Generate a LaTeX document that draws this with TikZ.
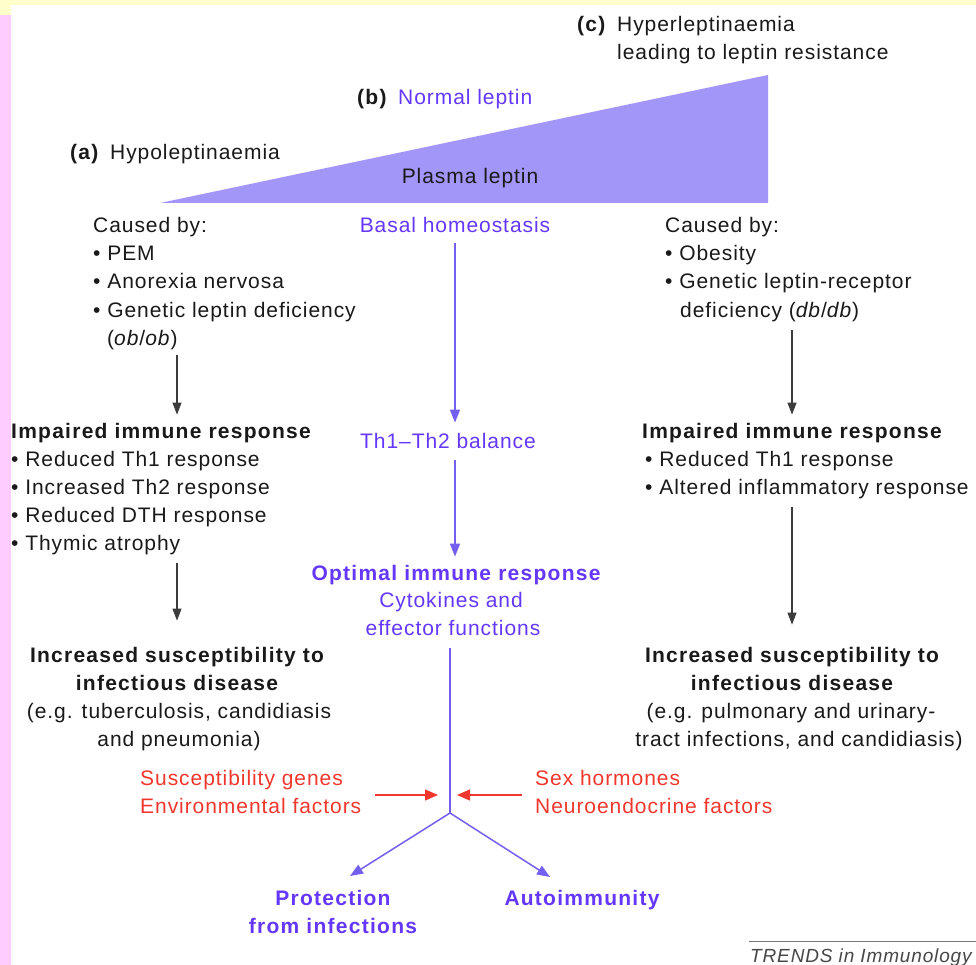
\documentclass[tikz,border=0pt]{standalone}
\usepackage{fontspec}
\setmainfont{Liberation Sans}[LetterSpace=4.5,BoldFeatures={LetterSpace=6}]
\usetikzlibrary{arrows.meta}
\definecolor{pur}{RGB}{100,55,250}
\definecolor{purl}{RGB}{115,95,240}
\definecolor{tri}{RGB}{162,150,248}
\definecolor{rd}{RGB}{240,55,45}
\definecolor{ink}{RGB}{25,25,25}
\definecolor{pinkbar}{RGB}{255,204,255}
\definecolor{yellowbar}{RGB}{255,255,204}
\tikzset{
  lbl/.style={inner sep=0pt, font=\fontsize{21}{25}\selectfont, text=ink},
  lblw/.style={lbl, anchor=base west},
  lblc/.style={lbl, anchor=base},
  purt/.style={text=pur},
  redt/.style={text=rd},
  boldt/.style={font=\fontsize{21}{25}\selectfont\bfseries},
  blkarrow/.style={draw=ink!85, line width=1.1pt, -{Triangle[length=12pt,width=9pt]}},
  purarrow/.style={draw=purl, line width=1.5pt, -{Triangle[length=13pt,width=10pt]}},
  purline/.style={draw=purl, line width=1.5pt},
  redarrow/.style={draw=rd, line width=1.3pt, -{Triangle[length=13pt,width=11pt]}}
}
\begin{document}
\begin{tikzpicture}[x=1pt,y=-1pt]
\useasboundingbox (0,0) rectangle (976,965);
\fill[white] (0,0) rectangle (976,965);
\fill[yellowbar] (0,0) rectangle (976,5);
\fill[yellowbar] (0,0) rectangle (11,15);
\fill[pinkbar] (0,15) rectangle (11,965);

% plasma leptin wedge
\fill[tri] (160,203) -- (768,75) -- (768,203) -- cycle;

% top labels
\node[lblw, boldt] (cc) at (577,32) {(c)};
\node[lblw] (hyper) at (617,32) {Hyperleptinaemia};
\node[lblw] (lead) at (617,60) {leading to leptin resistance};
\node[lblw, boldt] (bb) at (357,105) {(b)};
\node[lblw, purt] (norm) at (398,105) {Normal leptin};
\node[lblw, boldt] (aa) at (70,160) {(a)};
\node[lblw] (hypo) at (110,160) {Hypoleptinaemia};
\node[lblc] (plasma) at (470,184) {Plasma leptin};

% middle column
\node[lblc, purt] (basal) at (455,233) {Basal homeostasis};
\node[lblc, purt] (th) at (448,448) {Th1–Th2 balance};
\node[lblc, purt, boldt] (opt) at (456,580) {Optimal immune response};
\node[lblc, purt] (cyt) at (451,607) {Cytokines and};
\node[lblc, purt] (eff) at (453,635) {effector functions};

% left column
\node[lblw] (cbL) at (93,233) {Caused by:};
\node[lblw] (pem) at (93,261) {• PEM};
\node[lblw] (ano) at (93,289) {• Anorexia nervosa};
\node[lblw] (gen) at (93,317) {• Genetic leptin deficiency};
\node[lblw] (ob) at (107,345) {(\textit{ob}/\textit{ob})};
\node[lblw, boldt] (impL) at (11,438) {Impaired immune response};
\node[lblw] (l1) at (11,466) {• Reduced Th1 response};
\node[lblw] (l2) at (11,494) {• Increased Th2 response};
\node[lblw] (l3) at (11,522) {• Reduced DTH response};
\node[lblw] (thy) at (11,550) {• Thymic atrophy};
\node[lblc, boldt] (incL) at (177,662) {Increased susceptibility to};
\node[lblc, boldt] (infL) at (177,690) {infectious disease};
\node[lblc] (egL) at (179,718) {(e.g. tuberculosis, candidiasis};
\node[lblc] (pnL) at (179,746) {and pneumonia)};

% right column
\node[lblw] (cbR) at (665,233) {Caused by:};
\node[lblw] (obe) at (665,261) {• Obesity};
\node[lblw] (genR) at (665,289) {• Genetic leptin-receptor};
\node[lblw] (ddb) at (680,317) {deficiency (\textit{db}/\textit{db})};
\node[lblw, boldt] (impR) at (642,438) {Impaired immune response};
\node[lblw] (r1) at (645,466) {• Reduced Th1 response};
\node[lblw] (alt) at (645,494) {• Altered inflammatory response};
\node[lblc, boldt] (incR) at (792,662) {Increased susceptibility to};
\node[lblc, boldt] (infR) at (792,690) {infectious disease};
\node[lblc] (egR) at (791,718) {(e.g. pulmonary and urinary-};
\node[lblc] (trR) at (799,746) {tract infections, and candidiasis)};

% modifiers
\node[lblw, redt] (sus) at (140,785) {Susceptibility genes};
\node[lblw, redt] (env) at (140,813) {Environmental factors};
\node[lblw, redt] (sex) at (535,785) {Sex hormones};
\node[lblw, redt] (neu) at (535,813) {Neuroendocrine factors};

% outcomes
\node[lblc, purt, boldt] (prot) at (333,905) {Protection};
\node[lblc, purt, boldt] (from) at (333,933) {from infections};
\node[lblc, purt, boldt] (auto) at (582,905) {Autoimmunity};

% credit
\node[inner sep=0pt, anchor=base west, text=ink!80, font=\fontsize{19}{22}\selectfont\itshape] (trends) at (750,962) {TRENDS in Immunology};
\coordinate (rulea) at (749,941);
\coordinate (ruleb) at (976,941);
\draw[ink!60, line width=0.7pt] (rulea) -- (ruleb);

% black arrows
\draw[blkarrow, shorten <=5pt, shorten >=8pt] (ob.south -| incL.north) -- (impL.north -| incL.north);
\draw[blkarrow, shorten <=8pt, shorten >=26pt] (thy.south -| incL.north) -- (incL.north);
\draw[blkarrow, shorten <=8pt, shorten >=8pt] (ddb.south -| incR.north) -- (impR.north -| incR.north);
\draw[blkarrow, shorten <=8pt, shorten >=22pt] (alt.south -| incR.north) -- (incR.north);

% purple arrows
\draw[purarrow, shorten <=10pt, shorten >=10pt] (basal.south) -- (basal.south |- th.north);
\draw[purarrow, shorten <=12pt, shorten >=8pt] (basal.south |- th.south) -- (basal.south |- opt.north);
\coordinate (jn) at (450,813);
\coordinate (tipL) at (350,876);
\coordinate (tipR) at (550,877);
\draw[purline, shorten <=13pt] (eff.south -| jn) -- (jn);
\draw[purarrow] (jn) -- (tipL);
\draw[purarrow] (jn) -- (tipR);

% red arrows
\coordinate (redLs) at (375,795);
\coordinate (redLe) at (438,795);
\coordinate (redRs) at (522,795);
\coordinate (redRe) at (457,795);
\draw[redarrow] (redLs) -- (redLe);
\draw[redarrow] (redRs) -- (redRe);
\end{tikzpicture}
\end{document}
